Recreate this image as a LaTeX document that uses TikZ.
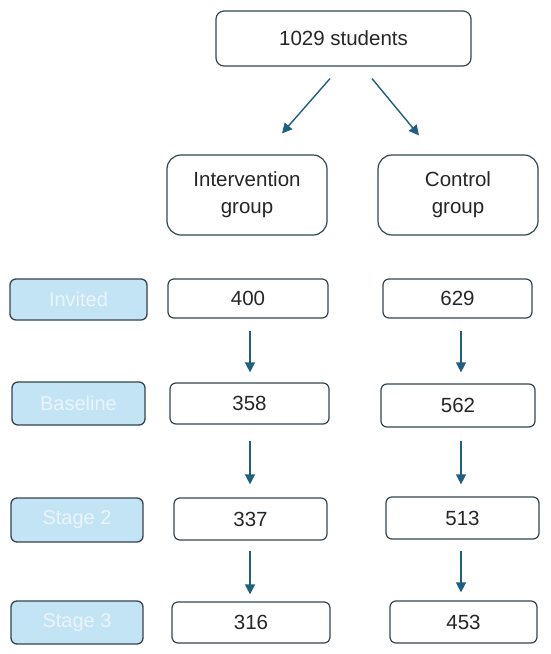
\documentclass[tikz,border=0pt]{standalone}
\usepackage{fontspec}
\setmainfont{Liberation Sans}
\usetikzlibrary{arrows.meta}
\definecolor{arrowblue}{HTML}{1F5F7F}
\definecolor{boxline}{HTML}{34454F}
\definecolor{labfill}{HTML}{C3E4F5}
\definecolor{labtext}{HTML}{EAF5FB}
\begin{document}
\begin{tikzpicture}[x=1pt,y=-1pt,
  txt/.style={font=\fontsize{20.5}{27}\selectfont, text=black!85},
  box/.style={txt, draw=boxline, line width=1.2pt, fill=white, inner sep=0pt},
  bigbox/.style={box, rounded corners=14pt, align=center},
  numbox/.style={box, rounded corners=6pt},
  labbox/.style={draw=boxline, line width=1.3pt, fill=labfill, rounded corners=6pt, inner sep=0pt,
     font=\fontsize{20}{24}\selectfont, text=labtext},
  arr/.style={draw=arrowblue, line width=1.4pt, -{Triangle[width=10pt,length=10pt]}}
]
\useasboundingbox (0,0) rectangle (550,654);
% top
\node[box, rounded corners=8pt, minimum width=255pt, minimum height=55pt] (top) at (343.5,38.5) {1029 students};
% groups
\node[bigbox, minimum width=160pt, minimum height=80pt] (int) at (247,195) {Intervention\\group};
\node[bigbox, minimum width=160pt, minimum height=80pt] (ctl) at (458,195) {Control\\group};
% labels
\node[labbox, minimum width=137pt, minimum height=41pt] (linv) at (78.5,299.5) {Invited};
\node[labbox, minimum width=133pt, minimum height=43pt] (lbas) at (78.5,403.5) {Baseline};
\node[labbox, minimum width=132pt, minimum height=44pt] (ls2) at (77,520) {Stage 2};
\node[labbox, minimum width=132pt, minimum height=43pt] (ls3) at (77,622.5) {Stage 3};
% numbers
\node[numbox, minimum width=160pt, minimum height=39pt] (i1) at (248,298.5) {400};
\node[numbox, minimum width=149pt, minimum height=39pt] (c1) at (457.5,298.5) {629};
\node[numbox, minimum width=159pt, minimum height=41pt] (i2) at (249.5,403.5) {358};
\node[numbox, minimum width=154pt, minimum height=43pt] (c2) at (458,405.5) {562};
\node[numbox, minimum width=153pt, minimum height=42pt] (i3) at (250.5,519) {337};
\node[numbox, minimum width=153pt, minimum height=42pt] (c3) at (462.5,518) {513};
\node[numbox, minimum width=158pt, minimum height=41pt] (i4) at (251,622.5) {316};
\node[numbox, minimum width=147pt, minimum height=42pt] (c4) at (463.5,622) {453};
% arrows from top
\draw[arr] ([xshift=-13.5pt,yshift=-12pt]top.south) -- ([xshift=35pt,yshift=21pt]int.north);
\draw[arr] ([xshift=28.5pt,yshift=-12pt]top.south) -- ([xshift=-39pt,yshift=19pt]ctl.north);
% vertical arrows
\draw[arr, shorten <=12pt, shorten >=10pt] ([xshift=2pt]i1.south) -- ([xshift=0.5pt]i2.north);
\draw[arr, shorten <=16pt, shorten >=13pt] ([xshift=0.5pt]i2.south) -- ([xshift=-0.5pt]i3.north);
\draw[arr, shorten <=10pt, shorten >=7pt] ([xshift=-0.5pt]i3.south) -- ([xshift=-1pt]i4.north);
\draw[arr, shorten <=12pt, shorten >=11pt] ([xshift=3.5pt]c1.south) -- ([xshift=3pt]c2.north);
\draw[arr, shorten <=13pt, shorten >=12pt] ([xshift=3pt]c2.south) -- ([xshift=-1.5pt]c3.north);
\draw[arr, shorten <=11pt, shorten >=8pt] ([xshift=-1.5pt]c3.south) -- ([xshift=-2.5pt]c4.north);
\end{tikzpicture}
\end{document}
